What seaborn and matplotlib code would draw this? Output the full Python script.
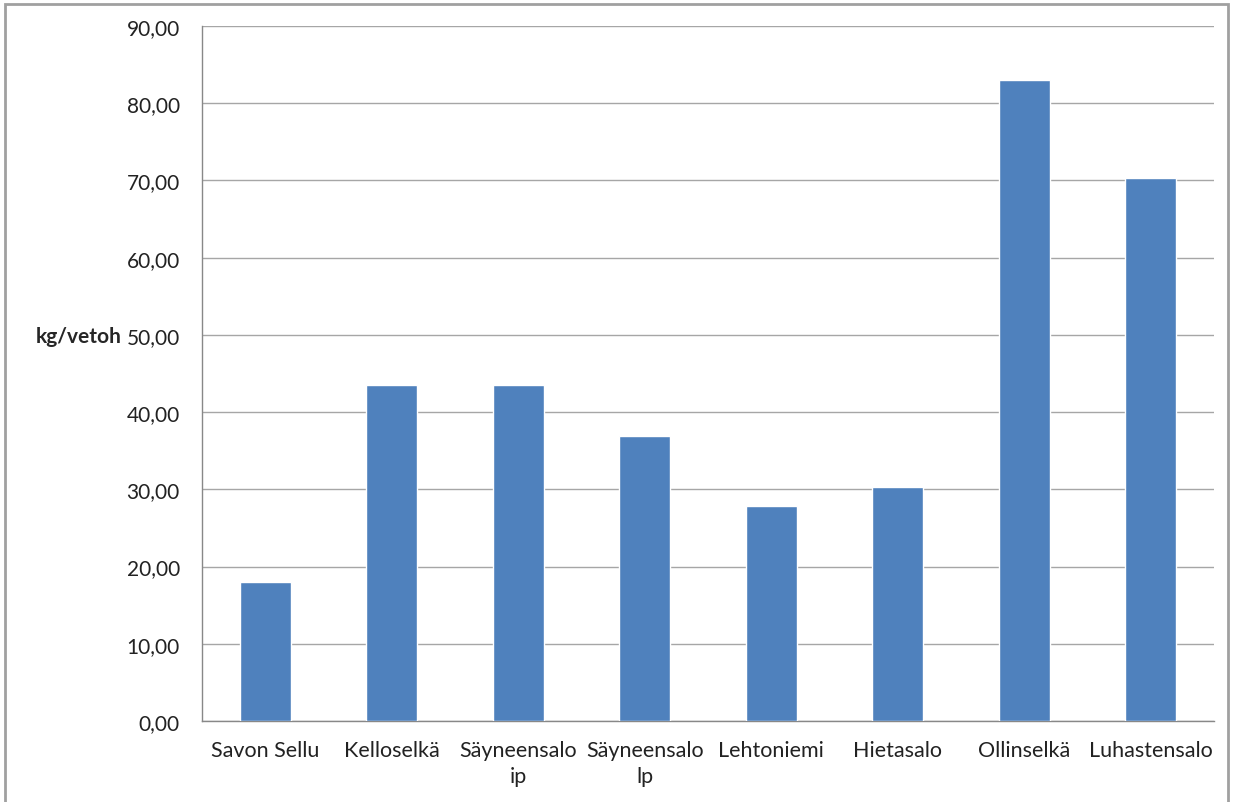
import numpy as np
import pandas as pd
import matplotlib
matplotlib.use('Agg')
import matplotlib.pyplot as plt
import seaborn as sns
from matplotlib.patches import Rectangle
from matplotlib.ticker import MultipleLocator, FuncFormatter

# Data
sites = ['Savon Sellu', 'Kelloselkä', 'Säyneensalo\nip', 'Säyneensalo\nlp',
         'Lehtoniemi', 'Hietasalo', 'Ollinselkä', 'Luhastensalo']
kg_per_haul = [18.0, 43.5, 43.5, 36.9, 27.85, 30.3, 83.0, 70.3]

df = pd.DataFrame({'site': sites, 'kg': kg_per_haul})

sns.set_style('white')
plt.rcParams['font.family'] = ['Lato', 'DejaVu Sans']

fig = plt.figure(figsize=(12.37, 8.03), dpi=100)
ax = fig.add_axes([202 / 1237, 1 - 722 / 803, (1214 - 202) / 1237, (722 - 27) / 803])

sns.barplot(data=df, x='site', y='kg', color='#4f81bd', saturation=1,
            width=0.4, ax=ax, zorder=3)

ax.set_ylim(0, 90)
ax.set_xlim(-0.5, len(sites) - 0.5)
ax.yaxis.set_major_locator(MultipleLocator(10))
ax.yaxis.set_major_formatter(FuncFormatter(lambda v, _: f'{v:.2f}'.replace('.', ',')))
ax.grid(axis='y', color='#a6a6a6', linewidth=1, zorder=0)

for side in ['top', 'right']:
    ax.spines[side].set_visible(False)
for side in ['left', 'bottom']:
    ax.spines[side].set_color('#888888')
    ax.spines[side].set_linewidth(1)

# category boundary ticks on the x axis
ax.set_xticks(np.arange(len(sites)))
ax.set_xticks(np.arange(len(sites) + 1) - 0.5, minor=True)
ax.tick_params(axis='x', which='major', length=0, pad=14, labelsize=15.5)
ax.tick_params(axis='x', which='minor', length=7, color='#888888', direction='out')
ax.tick_params(axis='y', length=6, color='#888888', labelsize=15, pad=10)
for lbl in ax.get_xticklabels():
    lbl.set_linespacing(1.35)
    lbl.set_color('#222222')
for lbl in ax.get_yticklabels():
    lbl.set_color('#222222')

ax.set_xlabel('')
ylab = ax.set_ylabel('kg/vetoh', rotation=0, fontsize=15, fontweight='bold')
ylab.set_va('center')
ylab.set_ha('center')
ax.yaxis.set_label_coords(-0.122, 0.554)

# outer chart border
fig.patches.append(Rectangle((5 / 1237, -0.01), 1223 / 1237, 1 - 5 / 803 + 0.01,
                             transform=fig.transFigure, fill=False,
                             edgecolor='#a0a0a0', linewidth=2))

fig.savefig('out.png', dpi=100)
